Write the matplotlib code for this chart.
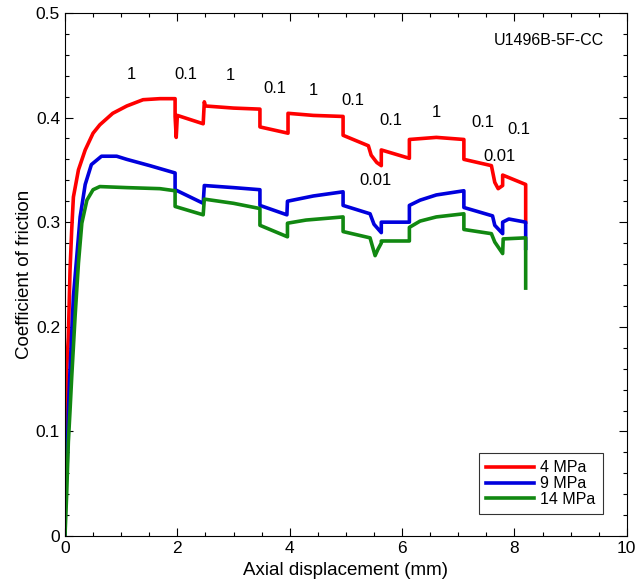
import matplotlib
matplotlib.use('Agg')
import matplotlib.pyplot as plt
from matplotlib.ticker import MultipleLocator, FuncFormatter

# 4 MPa 曲线 (axial displacement mm, friction)
red_x = [0, 0.01, 0.02, 0.03, 0.06, 0.09, 0.12, 0.15, 0.24, 0.36, 0.50, 0.62, 0.85, 1.10, 1.39, 1.69, 1.96,
         1.96, 1.98, 2.00, 2.46,
         2.48, 2.50, 3.00, 3.47,
         3.47, 3.97,
         3.97, 4.42, 4.95,
         4.95, 5.40, 5.45, 5.55, 5.63,
         5.63, 6.13,
         6.13, 6.61, 7.10,
         7.10, 7.59, 7.65, 7.71, 7.79,
         7.79, 8.20, 8.20]
red_y = [0, 0.05, 0.12, 0.16, 0.19, 0.254, 0.293, 0.324, 0.35, 0.369, 0.385, 0.393, 0.404, 0.411, 0.417, 0.418, 0.418,
         0.401, 0.381, 0.402, 0.394,
         0.415, 0.411, 0.409, 0.408,
         0.391, 0.385,
         0.404, 0.402, 0.401,
         0.383, 0.373, 0.364, 0.357, 0.354,
         0.369, 0.361,
         0.379, 0.381, 0.379,
         0.360, 0.354, 0.338, 0.332, 0.335,
         0.345, 0.336, 0.300]

# 9 MPa
blue_x = [0, 0.01, 0.04, 0.06, 0.09, 0.15, 0.21, 0.27, 0.36, 0.47, 0.65, 0.92, 1.10, 1.51, 1.96,
          1.96, 2.46,
          2.48, 3.00, 3.47,
          3.47, 3.95,
          3.96, 4.42, 4.95,
          4.95, 5.43, 5.50, 5.63,
          5.63, 6.13,
          6.13, 6.32, 6.61, 7.10,
          7.10, 7.61, 7.65, 7.79,
          7.79, 7.90, 8.20, 8.20]
blue_y = [0, 0.04, 0.07, 0.12, 0.159, 0.229, 0.267, 0.305, 0.336, 0.355, 0.363, 0.363, 0.360, 0.354, 0.347,
          0.331, 0.318,
          0.335, 0.333, 0.331,
          0.316, 0.307,
          0.320, 0.325, 0.329,
          0.316, 0.308, 0.298, 0.290,
          0.300, 0.300,
          0.316, 0.321, 0.326, 0.330,
          0.314, 0.306, 0.297, 0.289,
          0.300, 0.303, 0.300, 0.275]

# 14 MPa
green_x = [0, 0.03, 0.06, 0.09, 0.12, 0.18, 0.24, 0.30, 0.39, 0.50, 0.62, 1.10, 1.69, 1.96,
           1.96, 2.46,
           2.48, 3.00, 3.47,
           3.47, 3.96,
           3.96, 4.29, 4.95,
           4.95, 5.43, 5.52, 5.57, 5.63,
           5.63, 6.13,
           6.13, 6.32, 6.61, 7.10,
           7.10, 7.59, 7.65, 7.79,
           7.80, 8.20, 8.20]
green_y = [0, 0.04, 0.09, 0.12, 0.152, 0.21, 0.261, 0.299, 0.321, 0.331, 0.334, 0.333, 0.332, 0.330,
           0.315, 0.307,
           0.322, 0.318, 0.313,
           0.297, 0.286,
           0.299, 0.302, 0.305,
           0.291, 0.285, 0.268, 0.274, 0.280,
           0.282, 0.282,
           0.295, 0.301, 0.305, 0.308,
           0.293, 0.289, 0.281, 0.270,
           0.284, 0.285, 0.237]

# 速度标注 (um/s)
step_labels = ['1', '0.1', '1', '0.1', '1', '0.1', '0.1', '0.01', '1', '0.1', '0.01', '0.1']
step_label_x = [1.19, 2.15, 2.94, 3.74, 4.42, 5.13, 5.80, 5.52, 6.61, 7.43, 7.73, 8.08]
step_label_y = [0.441, 0.441, 0.440, 0.428, 0.426, 0.416, 0.397, 0.340, 0.405, 0.395, 0.363, 0.389]

series_names = ['4 MPa', '9 MPa', '14 MPa']
series_colors = ['#ff0000', '#0000dd', '#118811']

plt.rcParams['font.family'] = ['Liberation Sans', 'DejaVu Sans']

fig = plt.figure(figsize=(6.37, 5.84), dpi=100)
ax = fig.add_axes([0.102, 0.082, 0.882, 0.896])

for xs, ys, name, c in zip([red_x, blue_x, green_x], [red_y, blue_y, green_y],
                           series_names, series_colors):
    ax.plot(xs, ys, color=c, linewidth=2.6, label=name)

for t, tx, ty in zip(step_labels, step_label_x, step_label_y):
    ax.text(tx, ty, t, ha='center', va='center', fontsize=12)

ax.text(9.6, 0.474, 'U1496B-5F-CC', ha='right', va='center', fontsize=11.5)

ax.set_xlim(0, 10)
ax.set_ylim(0, 0.5)
ax.xaxis.set_major_locator(MultipleLocator(2))
ax.xaxis.set_minor_locator(MultipleLocator(0.5))
ax.yaxis.set_major_locator(MultipleLocator(0.1))
ax.yaxis.set_minor_locator(MultipleLocator(0.02))
ax.yaxis.set_major_formatter(FuncFormatter(lambda v, p: '0' if abs(v) < 1e-9 else f'{v:.1f}'))
ax.tick_params(which='both', direction='in', top=True, right=True, labelsize=12.5)
ax.tick_params(which='major', length=6, width=0.8)
ax.tick_params(which='minor', length=3, width=0.8)

ax.set_xlabel('Axial displacement (mm)', fontsize=13.5, labelpad=4)
ax.set_ylabel('Coefficient of friction', fontsize=13.5, labelpad=2)

leg = ax.legend(loc='lower right', bbox_to_anchor=(0.957, 0.042), fontsize=11.5,
                frameon=True, fancybox=False, handlelength=3.0, borderpad=0.45,
                labelspacing=0.05, handletextpad=0.4, borderaxespad=0)
leg.get_frame().set_edgecolor('black')
leg.get_frame().set_linewidth(0.8)

fig.savefig('out.png', dpi=100)
